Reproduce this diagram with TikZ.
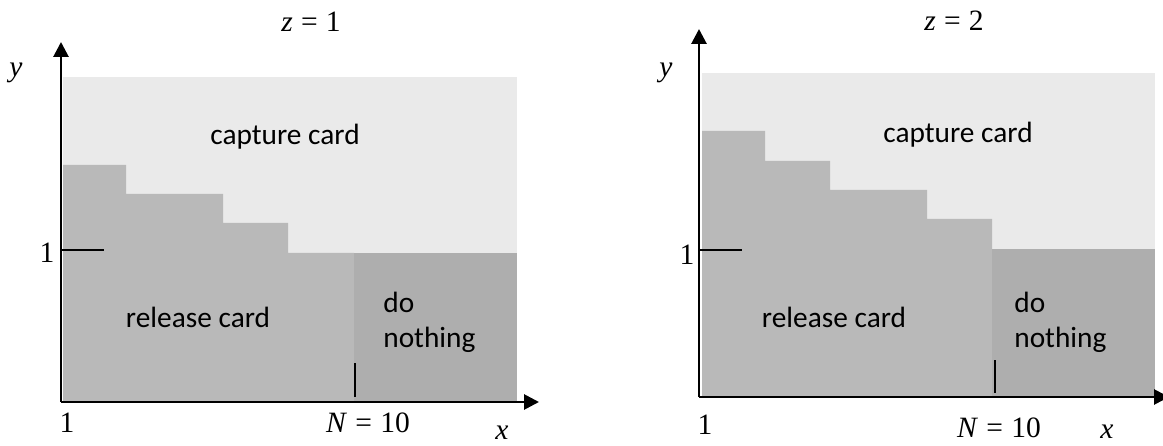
\documentclass[tikz,border=0pt]{standalone}
\usepackage{fontspec}
\setmainfont{Liberation Serif}
\newfontfamily\regionfont{Carlito}
\usetikzlibrary{arrows.meta,positioning}
\definecolor{capturegray}{RGB}{234,234,234}
\definecolor{releasegray}{RGB}{185,185,185}
\definecolor{nothinggray}{RGB}{174,174,174}
\newcommand{\eqsp}{\hspace{0.28em}=\hspace{0.28em}}
\tikzset{
  axis line/.style = {-{Triangle[length=3mm,width=3mm]}, line width=1.6pt},
  tick/.style      = {line width=1.1pt},
  region/.style    = {font=\regionfont\fontsize{16.7}{20}\selectfont, inner sep=0pt},
  math lab/.style  = {font=\fontsize{16.8}{20}\selectfont, inner sep=0pt},
}

\begin{document}
\begin{tikzpicture}
  \useasboundingbox (0,0) rectangle (23.26,8.92);

  % left panel, z = 1
  \begin{scope}[shift={(1.22,0.88)}]
    \fill[capturegray] (0.04,0) rectangle (9.12,6.5);
    \fill[releasegray] (0.04,0) -- (0.04,4.74) -- (1.30,4.74) -- (1.30,4.16)
      -- (3.24,4.16) -- (3.24,3.58) -- (4.54,3.58) -- (4.54,2.98)
      -- (5.86,2.98) -- (5.86,0) -- cycle;
    \fill[nothinggray] (5.86,0) rectangle (9.12,2.98);
    \draw[tick] (0,3.04) -- (0.86,3.04);
    \draw[tick] (5.88,0.10) -- (5.88,0.78);
    \coordinate (o1) at (0,0);
    \coordinate (ytip1) at (0,7.2);
    \coordinate (xtip1) at (9.56,0);
    \draw[axis line] (o1) -- (ytip1);
    \draw[axis line] (o1) -- (xtip1);
    \node[math lab] (zone) at (5.0,7.6) {\textit{z}\eqsp1};
    \node[math lab] (ylab1) at (-0.9,6.58) {\textit{y}};
    \node[math lab] (yone1) at (-0.28,2.98) {1};
    \node[math lab] (xone1) at (0.12,-0.42) {1};
    \node[math lab] (nten1) at (6.14,-0.42) {\textit{N}\eqsp10};
    \node[math lab] (xlab1) at (8.82,-0.62) {\textit{x}};
    \node[region] (capture1) at (4.48,5.3) {capture card};
    \node[region] (release1) at (2.74,1.7) {release card};
    \node[region, anchor=west, align=left] (nothing1) at (6.44,1.59) {do\\nothing};
  \end{scope}

  % right panel, z = 2
  \begin{scope}[shift={(13.98,0.98)}]
    \fill[capturegray] (0.06,0) rectangle (9.12,6.48);
    \fill[releasegray] (0.06,0) -- (0.06,5.32) -- (1.32,5.32) -- (1.32,4.72)
      -- (2.62,4.72) -- (2.62,4.14) -- (4.56,4.14) -- (4.56,3.56)
      -- (5.86,3.56) -- (5.86,2.96) -- (5.86,0) -- cycle;
    \fill[nothinggray] (5.86,0) rectangle (9.12,2.96);
    \draw[tick] (0,2.94) -- (0.86,2.94);
    \draw[tick] (5.92,0.08) -- (5.92,0.74);
    \coordinate (o2) at (0,0);
    \coordinate (ytip2) at (0,7.36);
    \coordinate (xtip2) at (9.40,0);
    \draw[axis line] (o2) -- (ytip2);
    \draw[axis line] (o2) -- (xtip2);
    \node[math lab] (ztwo) at (5.1,7.52) {\textit{z}\eqsp2};
    \node[math lab] (ylab2) at (-0.66,6.48) {\textit{y}};
    \node[math lab] (yone2) at (-0.24,2.84) {1};
    \node[math lab] (xone2) at (0.12,-0.56) {1};
    \node[math lab] (nten2) at (6.0,-0.62) {\textit{N}\eqsp10};
    \node[math lab] (xlab2) at (8.16,-0.70) {\textit{x}};
    \node[region] (capture2) at (5.18,5.24) {capture card};
    \node[region] (release2) at (2.7,1.6) {release card};
    \node[region, anchor=west, align=left] (nothing2) at (6.30,1.5) {do\\nothing};
  \end{scope}
\end{tikzpicture}
\end{document}
